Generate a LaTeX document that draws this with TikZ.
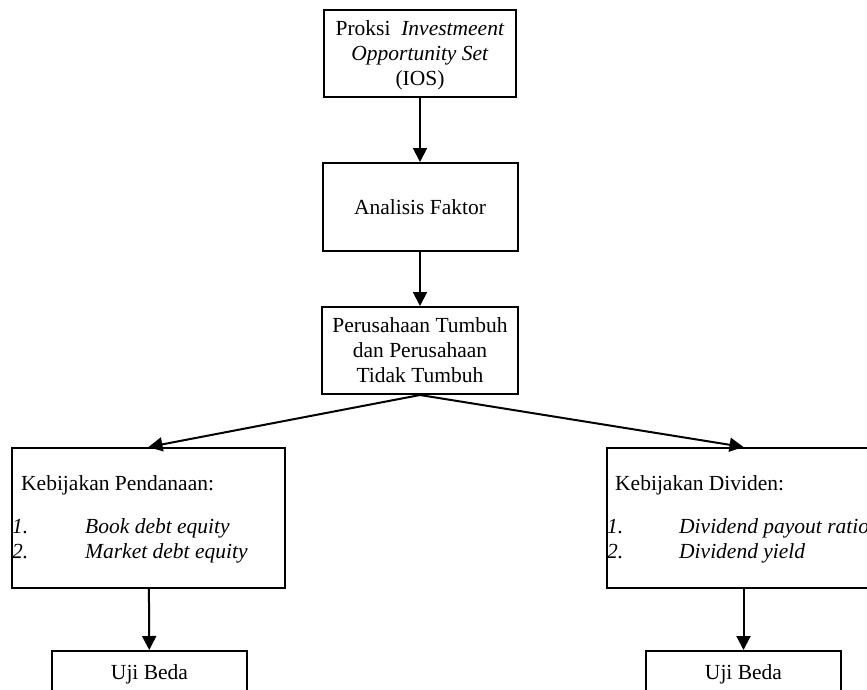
\documentclass[tikz,border=0pt]{standalone}
\usepackage{fontspec}
\setmainfont{Liberation Serif}
\usetikzlibrary{arrows.meta}

\begin{document}
\begin{tikzpicture}[
            x = 1pt, y = -1pt,
            every node/.style={font=\fontsize{21.5}{25}\selectfont, text depth=0pt},
            box/.style={draw, line width = 2pt, align=center, inner sep=0pt},
            label/.style={anchor=base west, inner sep=0pt},
            line/.style={line width = 2pt},
            arrow/.style={line, -{Triangle[length=14pt, width=14pt]}},
            ]
        \clip (0, 0) rectangle (867, 689);

        % alur utama
        \node[box, minimum width=192, minimum height=87] (proksi) at (420, 53.5)
            {Proksi \ \textit{Investmeent}\\ \textit{Opportunity Set}\\ (IOS)};
        \node[box, minimum width=195, minimum height=88] (analisis) at (420, 207) {Analisis Faktor};
        \node[box, minimum width=196, minimum height=87] (tumbuh) at (420, 350.5)
            {Perusahaan Tumbuh\\ dan Perusahaan\\ Tidak Tumbuh};

        % kebijakan
        \node[box, minimum width=273, minimum height=140] (pendanaan) at (148.5, 518) {};
        \node[box, minimum width=273, minimum height=140] (dividen) at (743.5, 518) {};

        \node[label] (pendanaan0) at (21, 490) {Kebijakan Pendanaan:};
        \node[label] (pendanaan1n) at (12, 533) {\textit{1.}};
        \node[label] (pendanaan1) at (85, 533) {\textit{Book debt equity}};
        \node[label] (pendanaan2n) at (12, 558) {\textit{2.}};
        \node[label] (pendanaan2) at (85, 558) {\textit{Market debt equity}};

        \node[label] (dividen0) at (615, 490) {Kebijakan Dividen:};
        \node[label] (dividen1n) at (607, 533) {\textit{1.}};
        \node[label] (dividen1) at (679, 533) {\textit{Dividend payout ratio}};
        \node[label] (dividen2n) at (607, 558) {\textit{2.}};
        \node[label] (dividen2) at (679, 558) {\textit{Dividend yield}};

        % uji beda
        \node[box, anchor=north, minimum width=195, text height=22pt, text depth=40pt, inner ysep=6pt]
            (ujiA) at (149.5, 650) {Uji Beda};
        \node[box, anchor=north, minimum width=195, text height=22pt, text depth=40pt, inner ysep=6pt]
            (ujiB) at (743.5, 650) {Uji Beda};

        \draw[arrow] (proksi) -- (analisis);
        \draw[arrow] (analisis) -- (tumbuh);
        \draw[arrow] (tumbuh.south) -- (pendanaan.north);
        \draw[arrow] (tumbuh.south) -- (dividen.north);
        \draw[arrow] (pendanaan) -- (ujiA);
        \draw[arrow] (dividen) -- (ujiB);
    \end{tikzpicture}
\end{document}
